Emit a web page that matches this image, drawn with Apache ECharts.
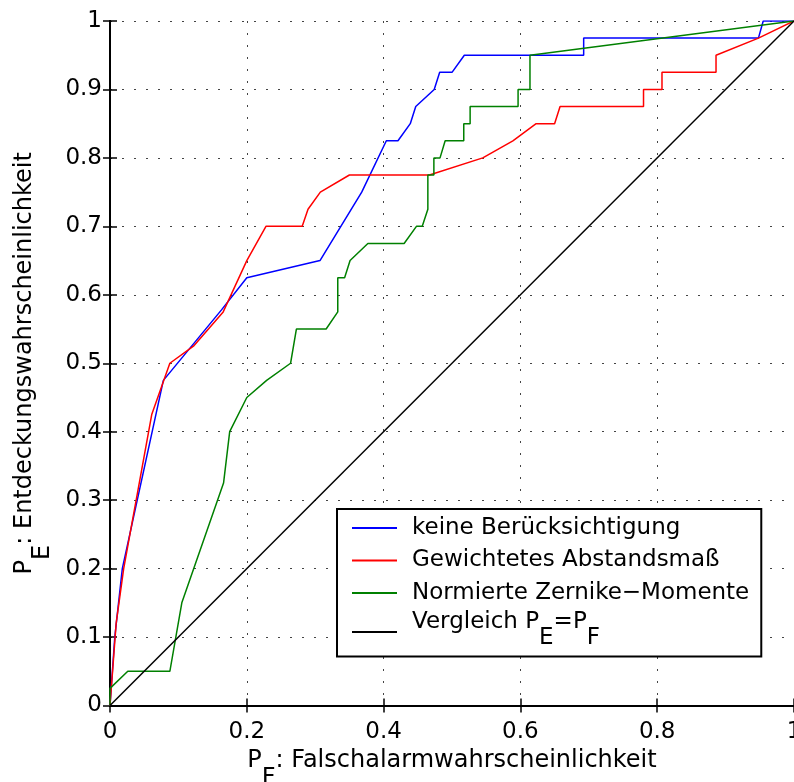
<!DOCTYPE html>
<html>
<head>
<meta charset="utf-8">
<script src="https://cdn.jsdelivr.net/npm/echarts@6/dist/echarts.min.js"></script>
<style>html,body{margin:0;padding:0;background:#fff}#c{width:794px;height:782px}</style>
</head>
<body>
<div id="c"></div>
<script>
// ---- data ----
const seriesNames = ['keine Berücksichtigung', 'Gewichtetes Abstandsmaß', 'Normierte Zernike−Momente', 'Vergleich PE=PF'];

const blueX = [0, 0.007, 0.018, 0.078, 0.163, 0.2, 0.307, 0.368, 0.404, 0.421, 0.439, 0.447, 0.474, 0.482, 0.5, 0.518, 0.6925, 0.6925, 0.948, 0.955, 1];
const blueY = [0, 0.1, 0.2, 0.475, 0.578, 0.625, 0.65, 0.75, 0.825, 0.825, 0.85, 0.875, 0.9, 0.925, 0.925, 0.95, 0.95, 0.975, 0.975, 1, 1];

const redX = [0, 0.009, 0.02, 0.061, 0.0875, 0.122, 0.1655, 0.2, 0.228, 0.281, 0.2895, 0.3075, 0.35, 0.467, 0.545, 0.589, 0.623, 0.65, 0.658, 0.78, 0.78, 0.807, 0.807, 0.886, 0.886, 0.948, 1];
const redY = [0, 0.12, 0.2, 0.425, 0.5, 0.525, 0.575, 0.65, 0.7, 0.7, 0.725, 0.75, 0.775, 0.775, 0.8, 0.825, 0.85, 0.85, 0.875, 0.875, 0.9, 0.9, 0.925, 0.925, 0.95, 0.975, 1];

const greenX = [0, 0, 0.026, 0.0875, 0.105, 0.166, 0.175, 0.2, 0.229, 0.264, 0.2725, 0.316, 0.333, 0.333, 0.343, 0.351, 0.377, 0.43, 0.448, 0.4565, 0.4647, 0.4647, 0.4735, 0.4735, 0.4825, 0.49, 0.5172, 0.5172, 0.5265, 0.5265, 0.5966, 0.5966, 0.614, 0.614, 1];
const greenY = [0, 0.025, 0.05, 0.05, 0.15, 0.325, 0.4, 0.45, 0.475, 0.5, 0.55, 0.55, 0.575, 0.625, 0.625, 0.65, 0.675, 0.675, 0.7, 0.7, 0.725, 0.775, 0.775, 0.8, 0.8, 0.825, 0.825, 0.85, 0.85, 0.875, 0.875, 0.9, 0.9, 0.95, 1];

const blackX = [0, 1];
const blackY = [0, 1];

const colors = ['#0000ff', '#ff0000', '#008000', '#000000'];

// ---- build ----
function pairs(xs, ys) { return xs.map((x, i) => [x, ys[i]]); }
const FONT = 'DejaVu Sans';
const subRich = {
  a: { fontFamily: FONT, fontSize: 24, color: '#000', lineHeight: 26, padding: [0, 0, 18, 0] },
  s: { fontFamily: FONT, fontSize: 24, color: '#000', lineHeight: 26, padding: [18, 0, 0, 0] }
};
const gridLine = { show: true, lineStyle: { color: '#444', width: 1, type: [2, 10] } };
const axisLine = { show: true, lineStyle: { color: '#000', width: 2 } };
const tick = { show: true, inside: true, length: 7, lineStyle: { color: '#000', width: 1.5 } };
const labelStyle = { fontFamily: FONT, fontSize: 23, color: '#000' };

const chart = echarts.init(document.getElementById('c'), null, { renderer: 'canvas' });
const data = [pairs(blueX, blueY), pairs(redX, redY), pairs(greenX, greenY), pairs(blackX, blackY)];

chart.setOption({
  animation: false,
  backgroundColor: '#fff',
  grid: { left: 110, right: 0, top: 21, bottom: 76.5, containLabel: false, outerBoundsMode: 'none' },
  xAxis: [
    { type: 'value', min: 0, max: 1, interval: 0.2, position: 'bottom',
      axisLine, axisTick: tick, splitLine: gridLine,
      axisLabel: Object.assign({ margin: 15, showMaxLabel: true, showMinLabel: true }, labelStyle),
      name: '{a|P}{s|F}{a|: Falschalarmwahrscheinlichkeit}', nameLocation: 'middle', nameGap: 45,
      nameTextStyle: { rich: subRich } },
    { type: 'value', min: 0, max: 1, interval: 0.2, position: 'top',
      axisLine, axisTick: tick, splitLine: { show: false }, axisLabel: { show: false } }
  ],
  yAxis: [
    { type: 'value', min: 0, max: 1, interval: 0.1, position: 'left',
      axisLine, axisTick: tick, splitLine: gridLine,
      axisLabel: Object.assign({ margin: 8, showMaxLabel: true, showMinLabel: true }, labelStyle),
      name: '{a|P}{s|E}{a|: Entdeckungswahrscheinlichkeit}', nameLocation: 'middle', nameGap: 50, nameRotate: 90,
      nameTextStyle: { rich: subRich } },
    { type: 'value', min: 0, max: 1, interval: 0.1, position: 'right',
      axisLine, axisTick: tick, splitLine: { show: false }, axisLabel: { show: false } }
  ],
  legend: {
    orient: 'vertical', left: 337, top: 509,
    data: seriesNames,
    icon: 'rect', itemWidth: 45, itemHeight: 2, itemGap: 2.5,
    padding: [4, 12, 3, 15],
    borderColor: '#000', borderWidth: 2, backgroundColor: '#fff',
    textStyle: {
      fontFamily: FONT, fontSize: 23, color: '#000', lineHeight: 30, padding: [0, 0, 0, 10],
      rich: {
        a: { fontFamily: FONT, fontSize: 23, color: '#000', lineHeight: 10, padding: [0, 0, 20, 0] },
        s: { fontFamily: FONT, fontSize: 23, color: '#000', lineHeight: 18, padding: [12, 0, 0, 0] }
      }
    },
    formatter: function (name) {
      if (name === seriesNames[3]) return '{a|Vergleich P}{s|E}{a|=P}{s|F}';
      return name;
    }
  },
  series: seriesNames.map((n, i) => ({
    name: n, type: 'line', data: data[i], symbol: 'none', showSymbol: false,
    color: colors[i], lineStyle: { color: colors[i], width: 1.5 }, z: 3
  }))
});
</script>
</body>
</html>
